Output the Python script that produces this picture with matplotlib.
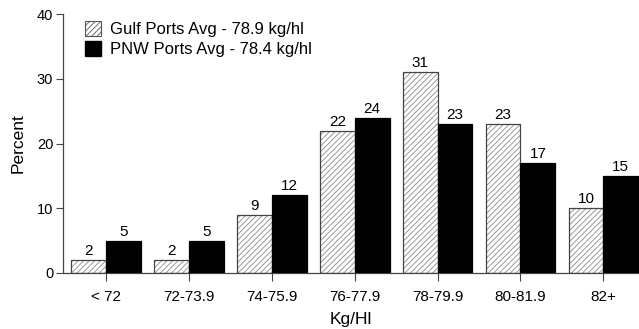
import matplotlib
matplotlib.use("Agg")
import matplotlib.pyplot as plt
import numpy as np
from matplotlib.patches import Patch

plt.rcParams['font.family'] = ['Liberation Sans', 'DejaVu Sans']
plt.rcParams['hatch.linewidth'] = 0.6

categories = ["< 72", "72-73.9", "74-75.9", "76-77.9", "78-79.9", "80-81.9", "82+"]
gulf = [2, 2, 9, 22, 31, 23, 10]
pnw = [5, 5, 12, 24, 23, 17, 15]
gulf_label = "Gulf Ports Avg - 78.9 kg/hl"
pnw_label = "PNW Ports Avg - 78.4 kg/hl"

fig = plt.figure(figsize=(6.39, 3.29), dpi=100)
ax = fig.add_axes([63 / 639, 1 - 273 / 329, 1 - 63 / 639, 259 / 329])

x = np.arange(len(categories))
w = 0.42

# hatched fill for Gulf, then a crisp outline on top
ax.bar(x - w / 2, gulf, w, color="white", edgecolor="#8a8a8a", hatch="//////", linewidth=0, zorder=2)
ax.bar(x - w / 2, gulf, w, fill=False, edgecolor="#444444", linewidth=0.9, zorder=3)
ax.bar(x + w / 2, pnw, w, color="black", edgecolor="black", linewidth=0.9, zorder=3)

for xi, v in zip(x - w / 2, gulf):
    ax.text(xi, v + 0.3, str(v), ha="center", va="bottom", fontsize=11)
for xi, v in zip(x + w / 2, pnw):
    ax.text(xi, v + 0.3, str(v), ha="center", va="bottom", fontsize=11)

ax.set_xlim(-0.52, 6.43)
ax.set_ylim(0, 40)
ax.set_yticks([0, 10, 20, 30, 40])
ax.set_xticks(x)
ax.set_xticklabels(categories, fontsize=11)
ax.tick_params(axis="y", labelsize=10.5, length=5, width=0.8, color="#444444", pad=2)
ax.tick_params(axis="x", length=6, width=0.8, color="#444444", pad=6)

for s in ["top", "right"]:
    ax.spines[s].set_visible(False)
for s in ["left", "bottom"]:
    ax.spines[s].set_color("#444444")
    ax.spines[s].set_linewidth(0.9)

ax.set_xlabel("Kg/Hl", fontsize=12.5, labelpad=6)
ax.set_ylabel("Percent", fontsize=12.5, labelpad=8)

handles = [
    Patch(facecolor="white", edgecolor="#555555", hatch="//////", linewidth=0.8, label=gulf_label),
    Patch(facecolor="black", edgecolor="black", label=pnw_label),
]
ax.legend(handles=handles, loc="upper left", bbox_to_anchor=(0.013, 1.03), frameon=False,
          fontsize=12, handlelength=0.95, handleheight=1.0, handletextpad=0.5, labelspacing=0.2)

fig.savefig("out.png", dpi=100)
